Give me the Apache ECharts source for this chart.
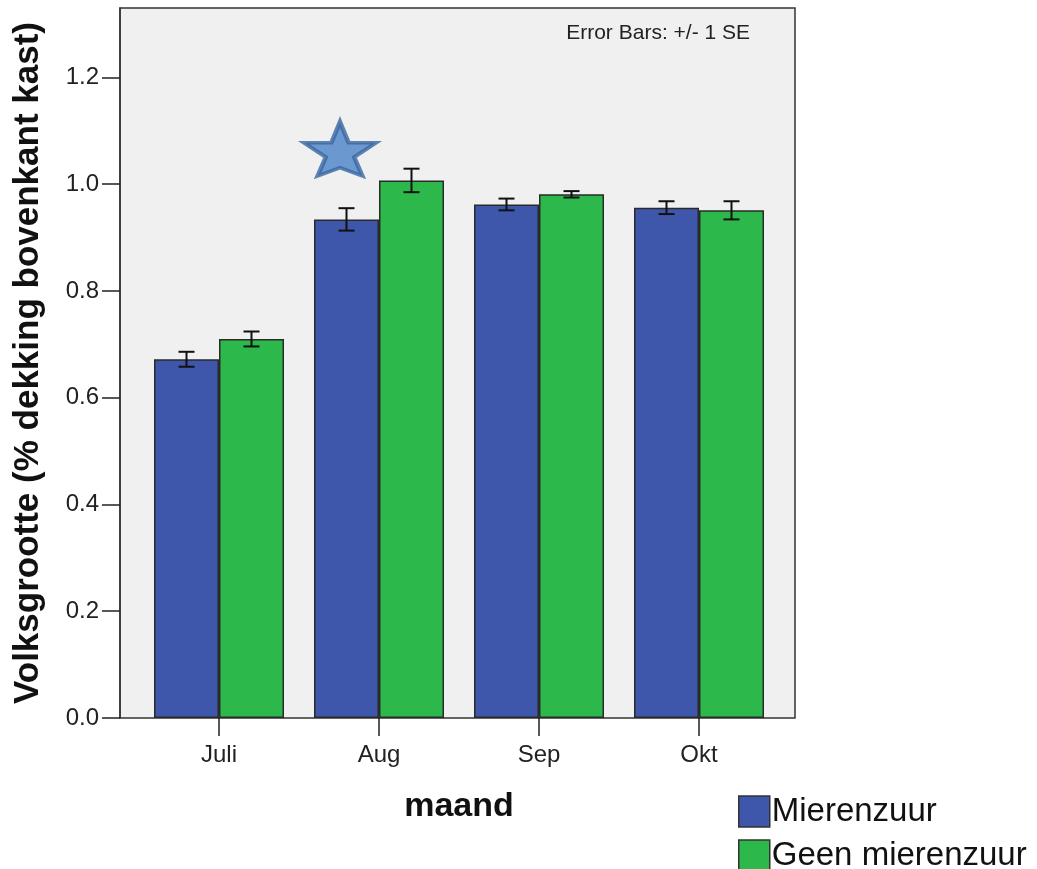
<!DOCTYPE html>
<html>
<head>
<meta charset="utf-8">
<title>Volksgrootte per maand</title>
<script src="https://cdn.jsdelivr.net/npm/echarts@6/dist/echarts.min.js"></script>
<style>
  html, body { margin: 0; padding: 0; background: #fff; }
  #chart { width: 1037px; height: 869px; }
</style>
</head>
<body>
<div id="chart"></div>
<script>
// maanden en gemiddelden (+/- 1 SE)
const months = ['Juli', 'Aug', 'Sep', 'Okt'];
const mierenzuur = [0.672, 0.934, 0.962, 0.956];
const mierenzuurSE = [0.014, 0.021, 0.011, 0.012];
const geenMierenzuur = [0.710, 1.007, 0.981, 0.951];
const geenMierenzuurSE = [0.014, 0.022, 0.006, 0.017];
const yTicks = [0, 0.2, 0.4, 0.6, 0.8, 1.0, 1.2];
const starPoint = [['Aug', 1.066]];

const yMax = 1.33;
const blue = '#3F57AB';
const green = '#2DB84B';
const font = '"Liberation Sans", Arial, sans-serif';

function errorBar(offset) {
    return function (params, api) {
        const i = api.value(0);
        const m = api.value(1);
        const se = api.value(2);
        const hi = api.coord([i, m + se]);
        const lo = api.coord([i, m - se]);
        const cx = hi[0] + offset;
        const hw = 8;
        const st = { stroke: '#111', lineWidth: 2 };
        return {
            type: 'group',
            children: [
                { type: 'line', shape: { x1: cx, y1: hi[1], x2: cx, y2: lo[1] }, style: st },
                { type: 'line', shape: { x1: cx - hw, y1: hi[1], x2: cx + hw, y2: hi[1] }, style: st },
                { type: 'line', shape: { x1: cx - hw, y1: lo[1], x2: cx + hw, y2: lo[1] }, style: st }
            ]
        };
    };
}

// één legenda per regel, zoals in het origineel
function legendRow(name, top) {
    return {
        data: [name],
        left: 733, top: top,
        itemWidth: 31, itemHeight: 31,
        icon: 'rect',
        itemStyle: { borderColor: '#333', borderWidth: 1.5 },
        textStyle: { fontSize: 33, color: '#111', padding: [0, 0, 0, -3] }
    };
}

let myChart = echarts.init(document.getElementById('chart'));
myChart.setOption({
    animation: false,
    textStyle: { fontFamily: font },
    grid: [
        { // frame + y-as
            left: 120, top: 8, width: 675, height: 710,
            show: true, backgroundColor: '#f0f0f0',
            borderColor: '#333', borderWidth: 1.5
        },
        { // staven
            left: 139, top: 8, width: 640, height: 710
        }
    ],
    legend: [
        legendRow('Mierenzuur', 790),
        legendRow('Geen mierenzuur', 834)
    ],
    graphic: [
        {
            type: 'text', right: 1037 - 750, top: 23,
            style: { text: 'Error Bars: +/- 1 SE', fontSize: 21, fill: '#222', fontFamily: font }
        }
    ],
    xAxis: [
        { gridIndex: 0, type: 'value', show: false, min: 0, max: 1 },
        {
            gridIndex: 1, type: 'category', data: months,
            name: 'maand', nameLocation: 'middle', nameGap: 72,
            nameTextStyle: { fontSize: 34, fontWeight: 'bold', color: '#111' },
            axisLine: { show: false },
            axisTick: { show: true, alignWithLabel: true, length: 18, lineStyle: { color: '#222', width: 1.5 } },
            axisLabel: { fontSize: 24, color: '#222', margin: 25 }
        }
    ],
    yAxis: [
        {
            gridIndex: 0, type: 'value', min: 0, max: yMax,
            name: 'Volksgrootte (% dekking bovenkant kast)',
            nameLocation: 'middle', nameGap: 74,
            nameTextStyle: { fontSize: 35, fontWeight: 'bold', color: '#111' },
            axisLine: { show: true, lineStyle: { color: '#333', width: 1.5 } },
            axisTick: { show: true, length: 18, customValues: yTicks, lineStyle: { color: '#222', width: 1.5 } },
            axisLabel: {
                fontSize: 24, color: '#222', margin: 21, customValues: yTicks,
                formatter: v => v.toFixed(1)
            },
            splitLine: { show: false }
        },
        { gridIndex: 1, type: 'value', min: 0, max: yMax, show: false, splitLine: { show: false } }
    ],
    series: [
        {
            name: 'Mierenzuur', type: 'bar', xAxisIndex: 1, yAxisIndex: 1,
            data: mierenzuur, barWidth: 65, barGap: '0%',
            itemStyle: { color: blue, borderColor: '#2a2a2a', borderWidth: 1.5 }
        },
        {
            name: 'Geen mierenzuur', type: 'bar', xAxisIndex: 1, yAxisIndex: 1,
            data: geenMierenzuur, barWidth: 65, barGap: '0%',
            itemStyle: { color: green, borderColor: '#2a2a2a', borderWidth: 1.5 }
        },
        {
            type: 'custom', xAxisIndex: 1, yAxisIndex: 1, z: 5,
            renderItem: errorBar(-32.5),
            data: months.map((m, i) => [i, mierenzuur[i], mierenzuurSE[i]])
        },
        {
            type: 'custom', xAxisIndex: 1, yAxisIndex: 1, z: 5,
            renderItem: errorBar(32.5),
            data: months.map((m, i) => [i, geenMierenzuur[i], geenMierenzuurSE[i]])
        },
        {
            type: 'scatter', xAxisIndex: 1, yAxisIndex: 1, z: 6,
            data: starPoint,
            symbol: 'path://M355,0 L440,205 L710,205 L495,345 L575,530 L355,450 L135,530 L215,345 L0,205 L270,205 Z',
            symbolSize: [72, 54], symbolKeepAspect: false,
            symbolOffset: [-39, 0],
            itemStyle: { color: '#4A82C6', borderColor: '#3A66A0', borderWidth: 4 }
        }
    ]
}, true);
</script>
</body>
</html>
